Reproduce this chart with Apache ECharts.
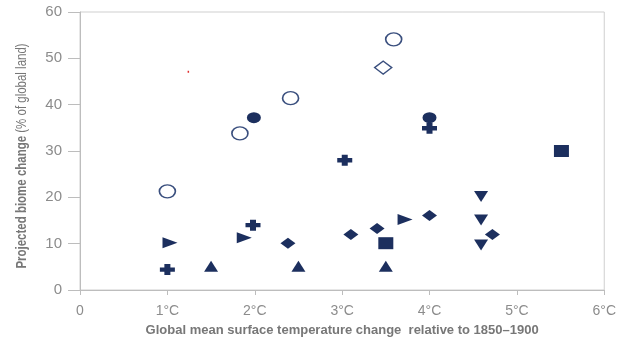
<!DOCTYPE html>
<html><head><meta charset="utf-8">
<script src="https://cdn.jsdelivr.net/npm/echarts@6/dist/echarts.min.js"></script>
<style>html,body{margin:0;padding:0;background:#fff}#c{width:619px;height:342px}</style>
</head><body><div id="c"></div>
<script>
const xTicks = ['0','1°C','2°C','3°C','4°C','5°C','6°C'];
const yTitleBold = 'Projected biome change';
const yTitleNormal = ' (% of global land)';
const xTitle = 'Global mean surface temperature change  relative to 1850–1900';
const openCircles = [[1.0,21.3],[1.83,33.8],[2.41,41.4],[3.59,54.1]];
const filledCircles = [[1.99,37.2],[4.0,37.2]];
const openDiamonds = [[3.47,48.0]];
const filledDiamonds = [[2.38,10.1],[3.1,12.0],[3.4,13.3],[4.0,16.1],[4.72,12.0]];
const squares = [[3.5,10.1],[5.51,30.0]];
const pluses = [[1.0,4.4],[1.98,14.0],[3.03,28.0],[4.0,34.9]];
const upTriangles = [[1.5,5.1],[2.5,5.1],[3.5,5.1]];
const downTriangles = [[4.59,20.2],[4.59,15.1],[4.59,9.7]];
const rightTriangles = [[1.03,10.2],[1.88,11.3],[3.72,15.2]];
const strayDot = [[1.24,47.1]];

const NAVY = '#1c2f5e';
const PLUS = 'path://M3,0h4v3h3v4h-3v3h-4v-3h-3v-4h3z';
const RIGHT = 'path://M0,0L10,5L0,10z';
const DOWN = 'path://M0,0L10,0L5,10z';
function s(data, symbol, size, hollow, extra) {
  return Object.assign({
    type: 'scatter', data: data, symbol: symbol, symbolSize: size,
    itemStyle: hollow ? {color: '#fff', borderColor: '#3a4f7e', borderWidth: 1.5, opacity: 1}
                      : {color: NAVY, opacity: 1},
    silent: true, z: 3
  }, extra || {});
}
const chart = echarts.init(document.getElementById('c'));
chart.setOption({
  animation: false,
  grid: {left: 80, right: 12, top: 12, bottom: 46, show: true, borderColor: '#cfcfcf', borderWidth: 1},
  graphic: [{
    type: 'text',
    rotation: Math.PI / 2, scaleX: 0.82,
    x: 22, y: 156,
    style: {
      text: '{b|' + yTitleBold + '}{n|' + yTitleNormal + '}',
      align: 'center', verticalAlign: 'middle',
      rich: {
        b: {fill: '#777', fontSize: 14, fontWeight: 'bold', fontFamily: 'Liberation Sans'},
        n: {fill: '#777', fontSize: 14, fontFamily: 'Liberation Sans'}
      }
    }
  }],
  xAxis: {
    type: 'value', min: 0, max: 6, interval: 1,
    axisLine: {show: true, lineStyle: {color: '#bdbdbd'}},
    axisTick: {show: true, length: 5, lineStyle: {color: '#bdbdbd'}},
    splitLine: {show: false},
    axisLabel: {color: '#8c8c8c', fontSize: 14, fontFamily: 'Liberation Sans', margin: 14,
      formatter: v => xTicks[Math.round(v)]},
    name: xTitle,
    nameLocation: 'middle', nameGap: 34,
    nameTextStyle: {color: '#777', fontSize: 13, fontWeight: 'bold', fontFamily: 'Liberation Sans'}
  },
  yAxis: {
    type: 'value', min: 0, max: 60, interval: 10,
    axisLine: {show: true, lineStyle: {color: '#bdbdbd'}},
    axisTick: {show: true, length: 12, lineStyle: {color: '#bdbdbd'}},
    splitLine: {show: false},
    axisLabel: {color: '#8c8c8c', fontSize: 15, fontFamily: 'Liberation Sans', margin: 18}
  },
  series: [
    s(openCircles, 'circle', [16, 13], true),
    s(filledCircles, 'circle', [14, 11], false),
    s(openDiamonds, 'diamond', [17, 13], true),
    s(filledDiamonds, 'diamond', [15, 11], false),
    s(squares, 'rect', [15, 12], false),
    s(pluses, PLUS, [15, 11], false),
    s(upTriangles, 'triangle', [14, 11], false),
    s(downTriangles, DOWN, [14, 11], false),
    s(rightTriangles, RIGHT, [15, 11], false),
    s(strayDot, 'rect', [1.5, 2], false, {itemStyle: {color: '#e03030', opacity: 1}})
  ]
});
</script></body></html>
